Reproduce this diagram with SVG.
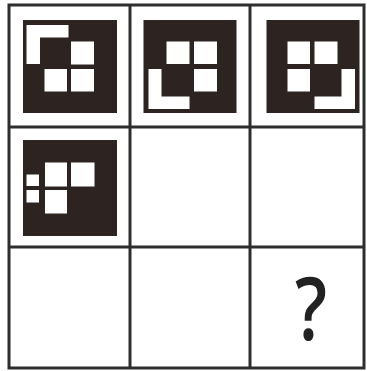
<svg xmlns="http://www.w3.org/2000/svg" width="367" height="371" viewBox="0 0 367 371">
<style>
.grid{stroke:#2e2e2e;stroke-width:3;fill:none}
.blk{fill:#2d2422}
.wht{fill:#ffffff}
.q{font-family:"Open Sans","Liberation Sans",sans-serif;font-size:86px;font-weight:600;fill:#222}
</style>
<rect width="367" height="371" fill="#ffffff"/>
<g id="grid" class="grid">
<rect x="9" y="5" width="355" height="363"/>
<line x1="130" y1="5" x2="130" y2="368"/>
<line x1="250" y1="5" x2="250" y2="368"/>
<line x1="9" y1="127" x2="364" y2="127"/>
<line x1="9" y1="247" x2="364" y2="247"/>
</g>
<g id="cell1">
<rect class="blk" x="23" y="20" width="94" height="93"/>
<path class="wht" d="M26.5,25 H68.5 V37.5 H40 V64 H26.5 Z"/>
<rect class="wht" x="71" y="41.5" width="23" height="23"/>
<rect class="wht" x="44.5" y="69" width="22.5" height="22.5"/>
<rect class="wht" x="71" y="69" width="23" height="22.5"/>
</g>
<g id="cell2">
<rect class="blk" x="143.5" y="20" width="93" height="93"/>
<rect class="wht" x="166.5" y="41.5" width="23" height="22.5"/>
<rect class="wht" x="194" y="41.5" width="23" height="22.5"/>
<rect class="wht" x="194" y="69" width="23" height="22.5"/>
<path class="wht" d="M148.5,69 H161.5 V96.5 H189.5 V109 H148.5 Z"/>
</g>
<g id="cell3">
<rect class="blk" x="266.5" y="20" width="93" height="93"/>
<rect class="wht" x="287.5" y="41.5" width="22.5" height="22.5"/>
<rect class="wht" x="314.5" y="41.5" width="23" height="22.5"/>
<rect class="wht" x="287.5" y="69" width="22.5" height="22.5"/>
<path class="wht" d="M341.5,69 H355 V109 H314.5 V96.5 H341.5 Z"/>
</g>
<g id="cell4">
<rect class="blk" x="23" y="140" width="94" height="96"/>
<rect class="wht" x="45" y="162.5" width="22" height="24"/>
<rect class="wht" x="71" y="162.5" width="23.5" height="24"/>
<rect class="wht" x="45" y="190" width="22" height="23.5"/>
<rect class="wht" x="26.5" y="174.5" width="12.5" height="11.5"/>
<rect class="wht" x="26.5" y="190" width="12.5" height="12.5"/>
</g>
<g id="question">
<text class="q" x="0" y="0" text-anchor="middle" transform="translate(311,340) scale(0.82,1)">?</text>
</g>
</svg>
